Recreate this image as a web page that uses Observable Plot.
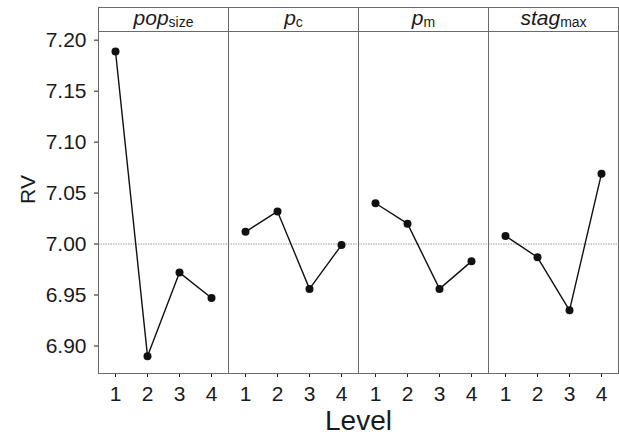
<!DOCTYPE html>
<html>
<head>
<meta charset="utf-8">
<script src="https://cdn.jsdelivr.net/npm/d3@7"></script>
<script src="https://cdn.jsdelivr.net/npm/@observablehq/plot@0.6"></script>
<style>
  html, body { margin: 0; padding: 0; background: white; }
</style>
</head>
<body>
<div id="chart"></div>
<script>
// Factor keys, their display names (main + subscript)
const params = ["popsize", "pc", "pm", "stagmax"];
const paramMain = ["pop", "p", "p", "stag"];
const paramSub = ["size", "c", "m", "max"];
const levels = [1, 2, 3, 4];

// RV values per level for each factor
const popsizeRV = [7.189, 6.890, 6.972, 6.947];
const pcRV = [7.012, 7.032, 6.956, 6.999];
const pmRV = [7.040, 7.020, 6.956, 6.983];
const stagmaxRV = [7.008, 6.987, 6.935, 7.069];

const yTicks = [6.90, 6.95, 7.00, 7.05, 7.10, 7.15, 7.20];
const refLine = [7.00];

const series = [popsizeRV, pcRV, pmRV, stagmaxRV];
const data = params.flatMap((p, i) => levels.map((l, j) => ({param: p, level: l, rv: series[i][j]})));

const chart = Plot.plot({
  width: 619,
  height: 439,
  marginLeft: 97,
  marginRight: 1,
  marginTop: 31,
  marginBottom: 66,
  style: {fontFamily: "'Liberation Sans', Arial, sans-serif", fontSize: "21px", color: "#1a1a1a", background: "white"},
  fx: {domain: params, padding: 0, axis: "top", label: null, tickSize: 0, tickPadding: 7},
  x: {type: "point", domain: levels, padding: 0.5, label: "Level", labelAnchor: "center", tickSize: 4, tickPadding: 9, labelOffset: 56},
  y: {domain: [6.873, 7.2085], ticks: yTicks, tickFormat: ".2f", label: "RV", labelArrow: "none", labelAnchor: "center", tickSize: 4, tickPadding: 8, labelOffset: 78},
  marks: [
    Plot.ruleY(refLine, {stroke: "#9a9a9a", strokeWidth: 1, strokeDasharray: "1.5,1"}),
    Plot.frame({stroke: "#6a6a6a", strokeWidth: 1, insetTop: -24}),
    Plot.frame({anchor: "top", stroke: "#6a6a6a", strokeWidth: 1}),
    Plot.line(data, {fx: "param", x: "level", y: "rv", stroke: "#111", strokeWidth: 1.4}),
    Plot.dot(data, {fx: "param", x: "level", y: "rv", r: 4, fill: "#111", stroke: "none"})
  ]
});

document.getElementById("chart").appendChild(chart);

const svg = d3.select(chart);
// grey tick marks
svg.selectAll('[aria-label="y-axis tick"], [aria-label="x-axis tick"]').attr("stroke", "#888");
// axis label sizes
svg.selectAll('[aria-label="x-axis label"]').attr("font-size", "28px");
svg.selectAll('[aria-label="y-axis label"]').each(function() {
  const g = d3.select(this);
  const tr = g.attr("transform") || "";
  g.attr("font-size", "21px").attr("transform", "translate(0,-13) " + tr);
});
svg.selectAll('[aria-label="y-axis label"] text').text("RV");
// facet header labels with subscripts
svg.selectAll('[aria-label="fx-axis tick label"] text').each(function() {
  const t = d3.select(this);
  const key = t.text();
  const i = params.indexOf(key);
  if (i < 0) return;
  t.text(null);
  t.append("tspan").attr("font-style", "italic").attr("font-size", "21px").text(paramMain[i]);
  t.append("tspan").attr("font-size", "14px").attr("dy", "2").text(paramSub[i]);
});
</script>
</body>
</html>
